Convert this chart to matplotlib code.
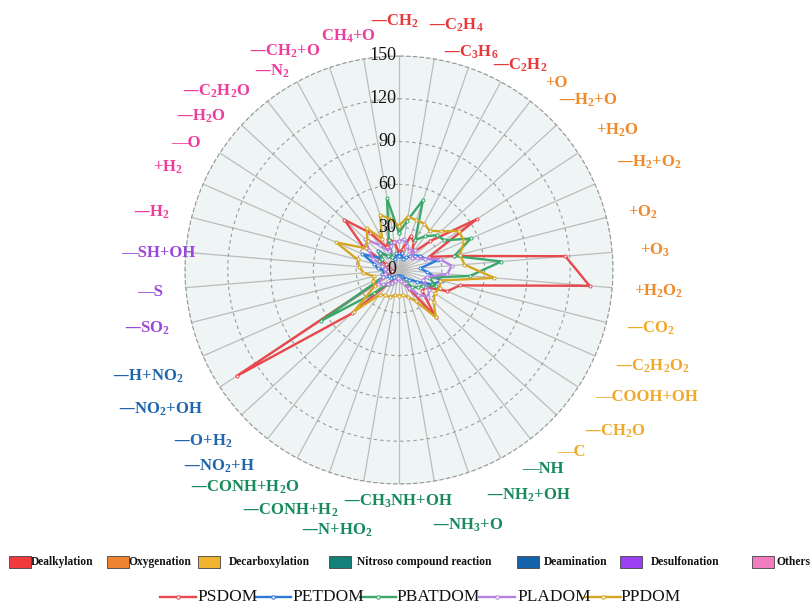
import numpy as np
import matplotlib
matplotlib.use("Agg")
import matplotlib.pyplot as plt
from matplotlib.patches import Rectangle
from matplotlib.lines import Line2D

plt.rcParams['font.family'] = ['Liberation Serif', 'DejaVu Serif']
plt.rcParams['mathtext.default'] = 'regular'

# ---------------- data ----------------
categories = [
    r"—CH$_2$", r"—C$_2$H$_4$", r"—C$_3$H$_6$", r"—C$_2$H$_2$",
    r"+O", r"—H$_2$+O", r"+H$_2$O", r"—H$_2$+O$_2$", r"+O$_2$", r"+O$_3$", r"+H$_2$O$_2$",
    r"—CO$_2$", r"—C$_2$H$_2$O$_2$", r"—COOH+OH", r"—CH$_2$O", r"—C",
    r"—NH", r"—NH$_2$+OH", r"—NH$_3$+O", r"—CH$_3$NH+OH", r"—N+HO$_2$", r"—CONH+H$_2$", r"—CONH+H$_2$O",
    r"—NO$_2$+H", r"—O+H$_2$", r"—NO$_2$+OH", r"—H+NO$_2$",
    r"—SO$_2$", r"—S", r"—SH+OH",
    r"—H$_2$", r"+H$_2$", r"—O", r"—H$_2$O", r"—C$_2$H$_2$O", r"—N$_2$", r"—CH$_2$+O", r"CH$_4$+O",
]
category_group = (["Dealkylation"] * 4 + ["Oxygenation"] * 7 + ["Decarboxylation"] * 5
                  + ["Nitroso compound reaction"] * 7 + ["Deamination"] * 4
                  + ["Desulfonation"] * 3 + ["Others"] * 8)

groups = ["Dealkylation", "Oxygenation", "Decarboxylation", "Nitroso compound reaction",
          "Deamination", "Desulfonation", "Others"]

series_names = ["PSDOM", "PETDOM", "PBATDOM", "PLADOM", "PPDOM"]
PSDOM = [12, 15, 25, 22, 15, 30, 65, 23, 40, 117, 134, 44, 37, 22, 22, 42, 15, 10, 6, 5,
         5, 6, 8, 12, 45, 136, 8, 6, 5, 6, 8, 10, 30, 52, 33, 18, 23, 20]
PETDOM = [10, 12, 8, 10, 12, 15, 18, 20, 28, 15, 20, 31, 25, 15, 10, 8, 5, 5, 4, 4,
          4, 5, 5, 6, 8, 8, 10, 12, 10, 15, 18, 28, 15, 20, 12, 10, 8, 12]
PBATDOM = [26, 35, 52, 24, 30, 36, 38, 55, 40, 72, 50, 22, 28, 20, 18, 15, 10, 8, 8, 6,
           6, 8, 10, 12, 24, 65, 12, 10, 8, 10, 12, 15, 14, 18, 12, 10, 22, 51]
PLADOM = [20, 22, 18, 15, 18, 12, 15, 20, 30, 37, 34, 20, 18, 25, 28, 22, 14, 10, 8, 6,
          6, 8, 10, 12, 15, 18, 12, 10, 8, 10, 12, 20, 25, 32, 22, 15, 18, 20]
PPDOM = [31, 38, 37, 37, 35, 40, 50, 50, 44, 46, 67, 30, 31, 30, 33, 42, 25, 20, 18, 18,
         18, 20, 20, 22, 43, 20, 20, 18, 25, 28, 30, 48, 28, 30, 37, 25, 41, 36]
series_values = [PSDOM, PETDOM, PBATDOM, PLADOM, PPDOM]

r_ticks = [0, 30, 60, 90, 120, 150]

# ---------------- style ----------------
W, H = 812, 604
group_label_colors = {"Dealkylation": "#e8383a", "Oxygenation": "#ee8a2a",
                      "Decarboxylation": "#efaa2c", "Nitroso compound reaction": "#178a5e",
                      "Deamination": "#1f66ad", "Desulfonation": "#9a48dc", "Others": "#ec3c9c"}
group_swatch_colors = {"Dealkylation": "#f03a3e", "Oxygenation": "#ee8430",
                       "Decarboxylation": "#f0b431", "Nitroso compound reaction": "#13817a",
                       "Deamination": "#1462aa", "Desulfonation": "#9a3ff2", "Others": "#f27cc0"}
series_colors = ["#e8474c", "#2f7ad8", "#3aa86a", "#b582e2", "#d6a522"]

# label centres in pixels (layout only)
label_px = [(395, 21), (456, 25), (471, 52), (520, 65), (556, 83), (588, 100), (617, 130),
            (649, 162), (643, 212), (655, 250), (659, 291), (651, 328), (652, 366), (647, 397),
            (615, 431), (571, 452), (543, 469), (528, 495), (468, 525), (398, 501), (337, 530),
            (290, 510), (245, 487), (219, 466), (203, 441), (160, 409), (148, 376), (147, 328),
            (150, 292), (158, 253), (152, 212), (168, 167), (186, 143), (201, 116), (216, 91),
            (272, 71), (285, 51), (348, 36)]

cx, cy, R = 399, 270, 214
fig = plt.figure(figsize=(W / 100, H / 100), dpi=100)
ax = fig.add_axes([(cx - R) / W, (H - cy - R) / H, 2 * R / W, 2 * R / H], projection='polar')
ax.set_theta_zero_location('N')
ax.set_theta_direction(-1)
ax.set_facecolor('#eff5f5')

n = len(categories)
angles = np.arange(n) * 2 * np.pi / n
ax.set_xticks(angles)
ax.set_xticklabels([])
ax.set_yticks(r_ticks)
ax.set_yticklabels([])
ax.set_ylim(0, r_ticks[-1])
ax.xaxis.grid(True, color='#bcbcbc', lw=0.9, ls='-')
ax.yaxis.grid(True, color='#9a9a9a', lw=0.8, ls=(0, (3, 3)))
ax.spines['polar'].set_color('#9a9a9a')
ax.spines['polar'].set_linestyle((0, (3, 3)))
ax.spines['polar'].set_linewidth(0.8)
ax.tick_params(pad=0, length=0)

for v in r_ticks:
    ax.annotate(str(v), xy=(0, v), xytext=(-2, 0), textcoords='offset points',
                ha='right', va='center', fontsize=13, color='#111111', zorder=10)

for name, vals, col in zip(series_names, series_values, series_colors):
    a = np.append(angles, angles[0])
    v = np.append(vals, vals[0])
    ax.plot(a, v, color=col, lw=1.7, marker='o', markersize=2.2,
            markerfacecolor='white', markeredgecolor=col, markeredgewidth=0.7, zorder=5)

for lab, grp, (px, py) in zip(categories, category_group, label_px):
    fig.text(px / W, 1 - py / H, lab, ha='center', va='center', fontsize=12,
             fontweight='bold', color=group_label_colors[grp])

# group legend
sw_x = [9, 107, 198, 329, 517, 620, 752]
tx_x = [31, 129, 229, 357, 544, 651, 777]
ly = 562
for g, sx, tx in zip(groups, sw_x, tx_x):
    fig.patches.append(Rectangle((sx / W, 1 - (ly + 6) / H), 22 / W, 12 / H,
                                 transform=fig.transFigure, facecolor=group_swatch_colors[g],
                                 edgecolor='#444444', lw=0.6))
    fig.text(tx / W, 1 - ly / H, g, ha='left', va='center', fontsize=8.3,
             fontweight='bold', color='#111111')

# series legend
ly2 = 597
seg_x = [160, 255, 360, 479, 585]
txt_x = [197, 292, 396, 517, 620]
for name, col, sx, tx in zip(series_names, series_colors, seg_x, txt_x):
    fig.lines.append(Line2D([sx / W, (sx + 36) / W], [1 - ly2 / H, 1 - ly2 / H],
                            transform=fig.transFigure, color=col, lw=1.7))
    fig.lines.append(Line2D([(sx + 18) / W], [1 - ly2 / H], transform=fig.transFigure,
                            color=col, marker='o', markersize=2.5, markerfacecolor='white',
                            markeredgewidth=0.7))
    fig.text(tx / W, 1 - ly2 / H, name, ha='left', va='center', fontsize=12.5, color='#111111')

fig.savefig('out.png', dpi=100)
